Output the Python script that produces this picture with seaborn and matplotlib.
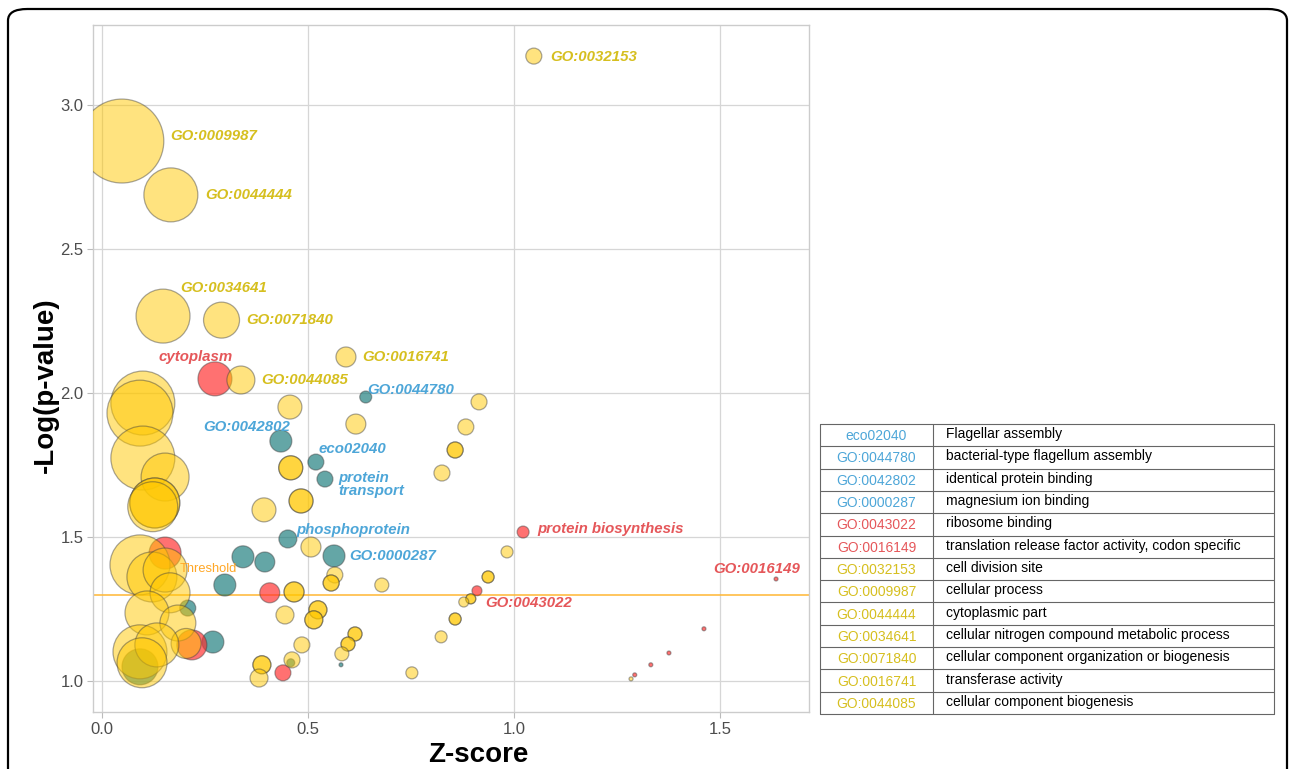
import numpy as np
import pandas as pd
import matplotlib
matplotlib.use("Agg")
import matplotlib.pyplot as plt
import seaborn as sns
from matplotlib.patches import FancyBboxPatch

# ---------------- data ----------------
# yellow (GO) terms
y_z = [1.048, 0.048, 0.167, 0.148, 0.290, 0.592, 0.337, 0.456, 0.616, 0.915, 0.883,
       0.857, 0.857, 0.825, 0.458, 0.458, 0.483, 0.483, 0.393, 0.507, 0.565, 0.556, 0.556,
       0.679, 0.466, 0.466, 0.444, 0.524, 0.524, 0.514, 0.514, 0.614, 0.614, 0.597, 0.597,
       0.582, 0.485, 0.461, 0.388, 0.388, 0.381, 0.752, 0.983, 0.937, 0.937, 0.895, 0.895,
       0.878, 0.857, 0.857, 0.823,
       0.099, 0.092, 0.099, 0.153, 0.128, 0.128, 0.123, 0.092, 0.121, 0.153, 0.165, 0.109,
       0.184, 0.204, 0.092, 0.133, 0.097, 1.284]
y_p = [3.170, 2.875, 2.688, 2.267, 2.253, 2.125, 2.045, 1.951, 1.892, 1.969, 1.882,
       1.802, 1.802, 1.722, 1.740, 1.740, 1.625, 1.625, 1.594, 1.465, 1.368, 1.340, 1.340,
       1.333, 1.309, 1.309, 1.229, 1.247, 1.247, 1.212, 1.212, 1.163, 1.163, 1.128, 1.128,
       1.094, 1.125, 1.073, 1.056, 1.056, 1.010, 1.028, 1.448, 1.361, 1.361, 1.285, 1.285,
       1.274, 1.215, 1.215, 1.153,
       1.965, 1.930, 1.774, 1.708, 1.618, 1.618, 1.605, 1.403, 1.361, 1.385, 1.306, 1.236,
       1.201, 1.130, 1.101, 1.125, 1.063, 1.007]
y_n = [64, 1764, 729, 729, 324, 100, 196, 144, 100, 64, 64,
       64, 64, 64, 144, 144, 144, 144, 144, 100, 64, 64, 64,
       49, 100, 100, 81, 81, 81, 81, 81, 49, 49, 49, 49,
       49, 64, 64, 81, 81, 81, 36, 36, 36, 36, 25, 25,
       25, 36, 36, 36,
       1024, 1089, 1024, 576, 625, 625, 625, 900, 625, 484, 400, 484,
       324, 225, 729, 484, 625, 4]

# red terms
r_z = [0.274, 0.153, 0.407, 0.218, 0.439, 1.022, 0.910, 1.636, 1.461, 1.376, 1.332, 1.293]
r_p = [2.049, 1.444, 1.306, 1.125, 1.028, 1.517, 1.313, 1.354, 1.181, 1.097, 1.056, 1.021]
r_n = [289, 256, 100, 225, 64, 36, 25, 4, 4, 4, 4, 4]

# teal terms
t_z = [0.640, 0.434, 0.519, 0.541, 0.451, 0.563, 0.342, 0.395, 0.298, 0.208, 0.269, 0.092, 0.458, 0.580]
t_p = [1.986, 1.833, 1.760, 1.701, 1.493, 1.434, 1.431, 1.413, 1.333, 1.253, 1.135, 1.049, 1.063, 1.056]
t_n = [36, 121, 64, 64, 81, 121, 121, 100, 121, 64, 121, 324, 16, 4]

threshold = 1.3

# labels
lab_text = ["GO:0032153", "GO:0009987", "GO:0044444", "GO:0034641", "GO:0071840",
            "cytoplasm", "GO:0016741", "GO:0044085", "GO:0044780", "GO:0042802",
            "eco02040", "protein\ntransport", "phosphoprotein", "GO:0000287",
            "protein biosynthesis", "GO:0016149", "GO:0043022"]
lab_group = ["yellow", "yellow", "yellow", "yellow", "yellow",
             "red", "yellow", "yellow", "teal", "teal",
             "teal", "teal", "teal", "teal",
             "red", "red", "red"]
lab_z = [1.087, 0.165, 0.250, 0.189, 0.349, 0.138, 0.631, 0.386, 0.643, 0.245,
         0.526, 0.573, 0.471, 0.599, 1.056, 1.483, 0.929]
lab_p = [3.167, 2.892, 2.688, 2.365, 2.253, 2.125, 2.125, 2.045, 2.010, 1.882,
         1.806, 1.681, 1.525, 1.434, 1.528, 1.389, 1.271]

table_codes = ["eco02040", "GO:0044780", "GO:0042802", "GO:0000287", "GO:0043022",
               "GO:0016149", "GO:0032153", "GO:0009987", "GO:0044444", "GO:0034641",
               "GO:0071840", "GO:0016741", "GO:0044085"]
table_group = ["teal"] * 4 + ["red"] * 2 + ["yellow"] * 7
table_desc = ["Flagellar assembly", "bacterial-type flagellum assembly",
              "identical protein binding", "magnesium ion binding", "ribosome binding",
              "translation release factor activity, codon specific", "cell division site",
              "cellular process", "cytoplasmic part",
              "cellular nitrogen compound metabolic process",
              "cellular component organization or biogenesis", "transferase activity",
              "cellular component biogenesis"]

# ---------------- styling ----------------
sns.set_theme(style="whitegrid")
plt.rcParams['font.family'] = ['Liberation Sans', 'DejaVu Sans']

point_colors = {"yellow": (1.0, 0.784, 0.0, 0.5),
                "red": (1.0, 0.18, 0.18, 0.68),
                "teal": (0.08, 0.47, 0.47, 0.66)}
text_colors = {"yellow": "#D6BF1F", "red": "#E5575A", "teal": "#4DA6D8"}

df = pd.concat([
    pd.DataFrame({"z": t_z, "logp": t_p, "n": t_n, "group": "teal"}),
    pd.DataFrame({"z": r_z, "logp": r_p, "n": r_n, "group": "red"}),
    pd.DataFrame({"z": y_z, "logp": y_p, "n": y_n, "group": "yellow"}),
], ignore_index=True)

W, H = 1290, 769
fig = plt.figure(figsize=(W / 100, H / 100), dpi=100)
ax = fig.add_axes([93 / W, 1 - 712 / H, 716 / W, 687 / H])

sns.scatterplot(data=df, x="z", y="logp", hue="group", size="n",
                palette=point_colors, sizes=(0, 2.07 * 2000), size_norm=(0, 2000),
                edgecolor=(0.25, 0.25, 0.25, 0.45), linewidth=0.9,
                legend=False, ax=ax, zorder=3)

ax.axhline(threshold, color="#FFB733", lw=1.1, zorder=2)
ax.text(0.188, 1.388, "Threshold", color="#FFA726", fontsize=9.3, va="center", ha="left", zorder=4)

for t, g, zx, py in zip(lab_text, lab_group, lab_z, lab_p):
    ax.text(zx, py, t, color=text_colors[g], fontsize=10.8, fontweight="bold",
            fontstyle="italic", ha="left", va="center", linespacing=0.9, zorder=5)

ax.set_xlim(-0.022, 1.716)
ax.set_ylim(0.892, 3.278)
ax.set_xticks([0.0, 0.5, 1.0, 1.5])
ax.set_yticks([1.0, 1.5, 2.0, 2.5, 3.0])
ax.set_xticklabels(["0.0", "0.5", "1.0", "1.5"])
ax.set_yticklabels(["1.0", "1.5", "2.0", "2.5", "3.0"])
ax.tick_params(axis="both", colors="#BBBBBB", labelcolor="#4D4D4D", labelsize=12,
               length=4, width=0.8, left=True, bottom=True, pad=3)
ax.grid(True, color="#D6D6D6", lw=0.9)
for s in ax.spines.values():
    s.set_color("#CCCCCC")
    s.set_linewidth(1.0)

ax.set_xlabel("Z-score", fontsize=20, fontweight="bold", color="black")
ax.xaxis.set_label_coords((478 - 93) / 716, -0.043)
ax.set_ylabel("-Log(p-value)", fontsize=20, fontweight="bold", color="black")
ax.yaxis.set_label_coords(-0.048, 1 - (385 - 25) / 687)

# ---------------- table ----------------
tax = fig.add_axes([820 / W, 1 - 714 / H, 454 / W, 290 / H])
tax.set_xlim(0, 454)
tax.set_ylim(290, 0)
tax.axis("off")
nrow = len(table_codes)
rh = 290 / nrow
lc = "#666666"
for i in range(nrow + 1):
    tax.plot([0, 454], [i * rh, i * rh], color=lc, lw=0.8, clip_on=False)
for xv in [0, 113, 454]:
    tax.plot([xv, xv], [0, 290], color=lc, lw=0.8, clip_on=False)
for i, (c, g, d) in enumerate(zip(table_codes, table_group, table_desc)):
    yc = (i + 0.5) * rh
    tax.text(56.5, yc + 1, c, color=text_colors[g], fontsize=10, ha="center", va="center")
    tax.text(126, yc - 1, d, color="black", fontsize=10, ha="left", va="center")

# rounded frame around the figure
frame = FancyBboxPatch((8 / W, -0.2), (1287 - 8) / W, (H - 9) / H + 0.2,
                       boxstyle="round,pad=0,rounding_size=0.015",
                       transform=fig.transFigure, fill=False, ec="black", lw=1.6,
                       clip_on=False)
fig.patches.append(frame)

fig.savefig("out.png", dpi=100)
